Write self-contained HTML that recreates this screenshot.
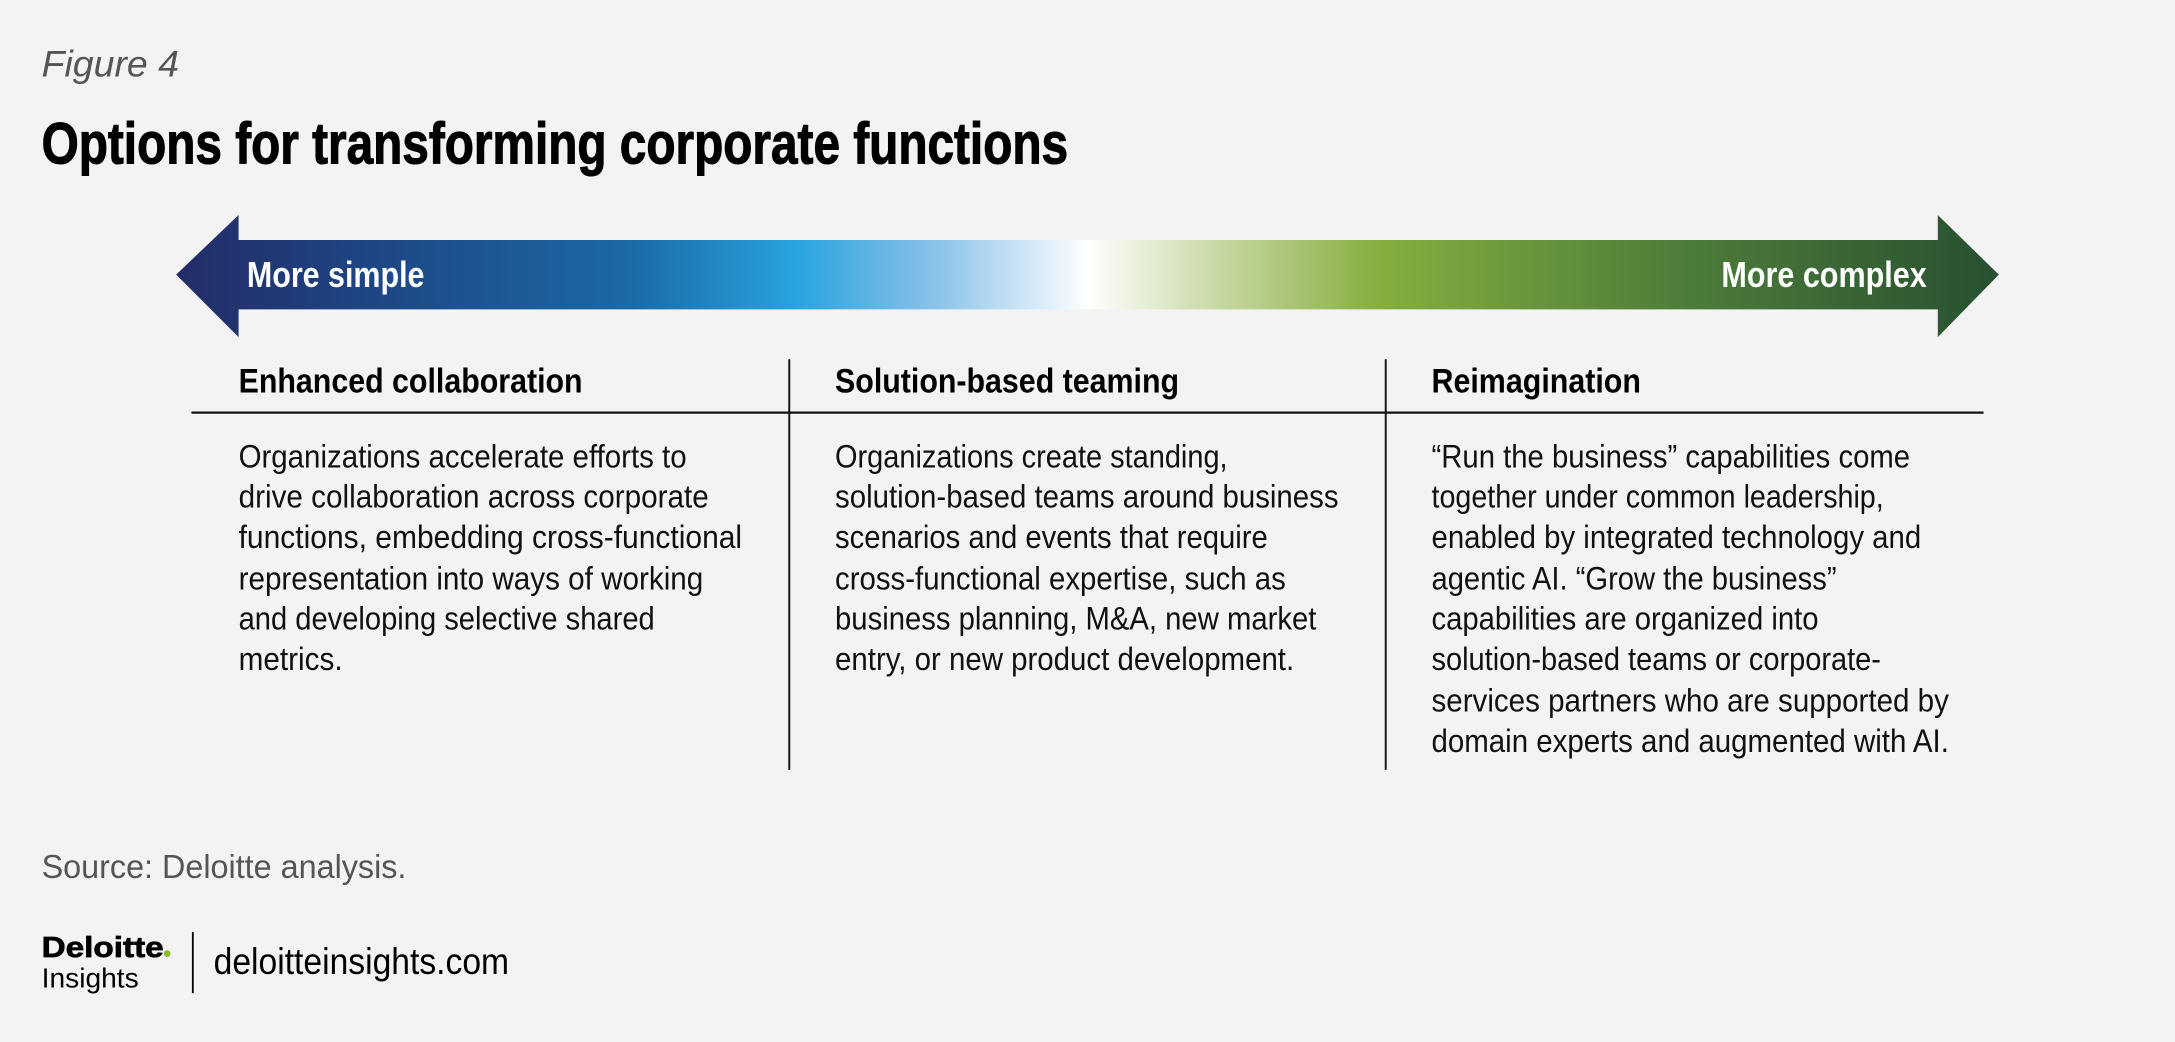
<!DOCTYPE html>
<html><head><meta charset="utf-8"><style>
html,body{margin:0;padding:0;background:#f3f3f3;}
svg{display:block}
text{font-family:"Liberation Sans",sans-serif;}
</style></head><body>
<svg width="2175" height="1042" viewBox="0 0 1568 751.2" xmlns="http://www.w3.org/2000/svg">
<defs>
<linearGradient id="g" x1="127" y1="0" x2="1441" y2="0" gradientUnits="userSpaceOnUse">
<stop offset="0" stop-color="#242c66"/>
<stop offset="0.08" stop-color="#1f3f7e"/>
<stop offset="0.25" stop-color="#1a6aa6"/>
<stop offset="0.34" stop-color="#29a3de"/>
<stop offset="0.42" stop-color="#8ec4ea"/>
<stop offset="0.5" stop-color="#ffffff"/>
<stop offset="0.57" stop-color="#c9d9a6"/>
<stop offset="0.66" stop-color="#86ae3e"/>
<stop offset="0.82" stop-color="#4f7f3a"/>
<stop offset="1" stop-color="#275031"/>
</linearGradient>
</defs>
<rect width="1568" height="752" fill="#f3f3f3"/>
<text x="30" y="55" font-family="Liberation Serif" font-style="italic" font-size="27" fill="#555">Figure 4</text>
<text x="30" y="118" font-size="42" font-weight="bold" fill="#000" stroke="#000" stroke-width="0.8" textLength="740" lengthAdjust="spacingAndGlyphs">Options for transforming corporate functions</text>
<polygon points="127,198 172,155 172,173 1397,173 1397,155 1441,198 1397,243 1397,223 172,223 172,243" fill="url(#g)"/>
<text x="178" y="207" font-size="26" font-weight="bold" fill="#fff" textLength="128" lengthAdjust="spacingAndGlyphs">More simple</text>
<text x="1241" y="207" font-size="26" font-weight="bold" fill="#fff" textLength="148" lengthAdjust="spacingAndGlyphs">More complex</text>
<g font-size="24.5" font-weight="bold" fill="#000">
<text x="172" y="283" textLength="248" lengthAdjust="spacingAndGlyphs">Enhanced collaboration</text>
<text x="602" y="283" textLength="248" lengthAdjust="spacingAndGlyphs">Solution-based teaming</text>
<text x="1032" y="283" textLength="151" lengthAdjust="spacingAndGlyphs">Reimagination</text>
</g>
<line x1="138" y1="297.5" x2="1430" y2="297.5" stroke="#111" stroke-width="1.6"/>
<line x1="569" y1="259" x2="569" y2="555" stroke="#111" stroke-width="1.4"/>
<line x1="999" y1="259" x2="999" y2="555" stroke="#111" stroke-width="1.4"/>
<g font-size="23.5" fill="#111">
<text x="172" y="337" textLength="323" lengthAdjust="spacingAndGlyphs">Organizations accelerate efforts to</text>
<text x="172" y="366" textLength="339" lengthAdjust="spacingAndGlyphs">drive collaboration across corporate</text>
<text x="172" y="395" textLength="363" lengthAdjust="spacingAndGlyphs">functions, embedding cross-functional</text>
<text x="172" y="425" textLength="335" lengthAdjust="spacingAndGlyphs">representation into ways of working</text>
<text x="172" y="454" textLength="300" lengthAdjust="spacingAndGlyphs">and developing selective shared</text>
<text x="172" y="483" textLength="75" lengthAdjust="spacingAndGlyphs">metrics.</text>
<text x="602" y="337" textLength="283" lengthAdjust="spacingAndGlyphs">Organizations create standing,</text>
<text x="602" y="366" textLength="363" lengthAdjust="spacingAndGlyphs">solution-based teams around business</text>
<text x="602" y="395" textLength="312" lengthAdjust="spacingAndGlyphs">scenarios and events that require</text>
<text x="602" y="425" textLength="325" lengthAdjust="spacingAndGlyphs">cross-functional expertise, such as</text>
<text x="602" y="454" textLength="347" lengthAdjust="spacingAndGlyphs">business planning, M&amp;A, new market</text>
<text x="602" y="483" textLength="331" lengthAdjust="spacingAndGlyphs">entry, or new product development.</text>
<text x="1032" y="337" textLength="345" lengthAdjust="spacingAndGlyphs">“Run the business” capabilities come</text>
<text x="1032" y="366" textLength="326" lengthAdjust="spacingAndGlyphs">together under common leadership,</text>
<text x="1032" y="395" textLength="353" lengthAdjust="spacingAndGlyphs">enabled by integrated technology and</text>
<text x="1032" y="425" textLength="292" lengthAdjust="spacingAndGlyphs">agentic AI. “Grow the business”</text>
<text x="1032" y="454" textLength="279" lengthAdjust="spacingAndGlyphs">capabilities are organized into</text>
<text x="1032" y="483" textLength="324" lengthAdjust="spacingAndGlyphs">solution-based teams or corporate-</text>
<text x="1032" y="513" textLength="373" lengthAdjust="spacingAndGlyphs">services partners who are supported by</text>
<text x="1032" y="542" textLength="373" lengthAdjust="spacingAndGlyphs">domain experts and augmented with AI.</text>
</g>
<text x="30" y="633" font-size="24" fill="#555" textLength="263" lengthAdjust="spacingAndGlyphs">Source: Deloitte analysis.</text>
<text x="30" y="690" font-size="21" font-weight="bold" fill="#000" stroke="#000" stroke-width="0.5" textLength="88" lengthAdjust="spacingAndGlyphs">Deloitte</text>
<circle cx="120.5" cy="687.5" r="2.4" fill="#86bc25"/>
<text x="30" y="712" font-size="20" fill="#000" textLength="70" lengthAdjust="spacingAndGlyphs">Insights</text>
<line x1="139" y1="672" x2="139" y2="716" stroke="#000" stroke-width="1.3"/>
<text x="154" y="702" font-size="27" fill="#000" textLength="213" lengthAdjust="spacingAndGlyphs">deloitteinsights.com</text>
</svg>
</body></html>
